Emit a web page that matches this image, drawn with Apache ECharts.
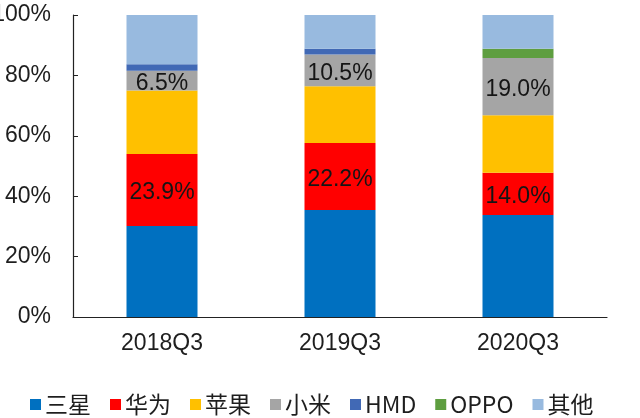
<!DOCTYPE html>
<html>
<head>
<meta charset="utf-8">
<script src="https://cdn.jsdelivr.net/npm/echarts@6/dist/echarts.min.js"></script>
<style>
html,body{margin:0;padding:0;background:#fff;}
#chart{width:640px;height:418px;}
</style>
</head>
<body>
<div id="chart"></div>
<script>
const categories = ['2018Q3', '2019Q3', '2020Q3'];
const seriesNames = ['三星', '华为', '苹果', '小米', 'HMD', 'OPPO', '其他'];
const samsung = [30.1, 35.4, 33.8];
const huawei = [23.9, 22.2, 14.0];
const apple = [21.0, 18.8, 19.0];
const xiaomi = [6.5, 10.5, 19.0];
const hmd = [2.2, 1.9, 0];
const oppo = [0, 0, 3.0];
const others = [16.3, 11.2, 11.2];
const yTicks = [0, 20, 40, 60, 80, 100];

const values = [samsung, huawei, apple, xiaomi, hmd, oppo, others];
const colors = ['#0070C0', '#FF0000', '#FFC000', '#A5A5A5', '#4169B5', '#5E9E40', '#98BADF'];
const labelled = [false, true, false, true, false, false, false];

const chart = echarts.init(document.getElementById('chart'));
const axisFont = {fontFamily: '"Liberation Sans", Arial, sans-serif', fontSize: 23, color: '#1e1e1e'};

chart.setOption({
  animation: false,
  backgroundColor: '#fff',
  grid: {left: 73, right: 33, top: 15, bottom: 101, containLabel: false, outerBoundsMode: 'none'},
  legend: {
    data: seriesNames,
    left: 25,
    top: 388,
    itemWidth: 11,
    itemHeight: 11,
    itemGap: 19,
    icon: 'rect',
    textStyle: {fontFamily: '"Noto Sans CJK SC", sans-serif', fontSize: 23, color: '#1e1e1e', padding: [0, 0, 0, -1]}
  },
  xAxis: {
    type: 'category',
    data: categories,
    axisLine: {lineStyle: {color: '#222', width: 1.2}},
    axisTick: {inside: true, length: 5, lineStyle: {color: '#222'}},
    axisLabel: Object.assign({margin: 15}, axisFont)
  },
  yAxis: {
    type: 'value',
    min: yTicks[0],
    max: yTicks[yTicks.length - 1],
    interval: 20,
    axisLine: {show: true, lineStyle: {color: '#222', width: 1.2}},
    axisTick: {show: true, inside: true, length: 5, lineStyle: {color: '#222'}},
    splitLine: {show: false},
    axisLabel: Object.assign({margin: 22, formatter: '{value}%'}, axisFont)
  },
  series: seriesNames.map((name, i) => ({
    name: name,
    type: 'bar',
    stack: 'total',
    barWidth: 71,
    data: values[i],
    itemStyle: {color: colors[i]},
    label: {
      show: labelled[i],
      position: 'inside',
      offset: [0, 3],
      fontFamily: '"Liberation Sans", Arial, sans-serif',
      fontSize: 23,
      color: '#151515',
      formatter: p => p.value.toFixed(1) + '%'
    }
  }))
});
</script>
</body>
</html>
